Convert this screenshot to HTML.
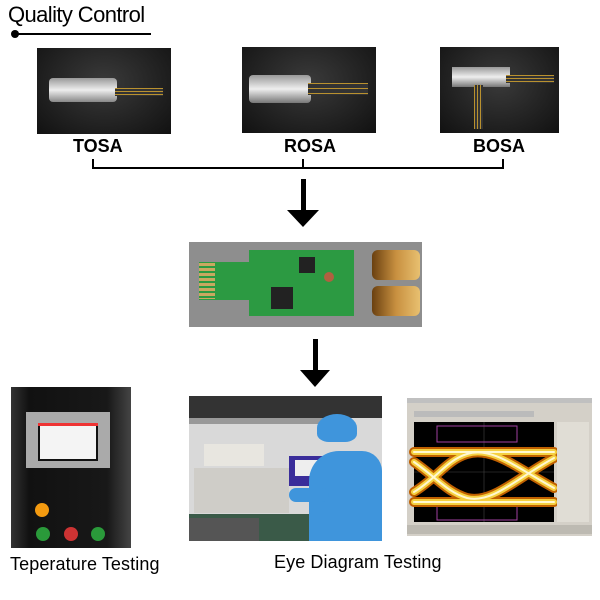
<!DOCTYPE html>
<html><head><style>
body{margin:0;width:600px;height:600px;background:#fff;position:relative;overflow:hidden;font-family:"Liberation Sans",Arial,sans-serif}
.a{position:absolute}
.t{font-weight:bold;font-size:18px;color:#000}
</style></head><body>
<div class="a" style="left:8px;top:2px;font-size:22px;letter-spacing:-0.6px">Quality Control</div>
<div class="a" style="left:12px;top:33px;width:139px;height:2px;background:#000"></div>
<div class="a" style="left:11px;top:30px;width:8px;height:8px;border-radius:50%;background:#000"></div>

<div class="a" style="left:37px;top:48px;width:134px;height:86px;background:radial-gradient(ellipse at 50% 40%,#3a3a3a,#111)">
 <div class="a" style="left:12px;top:30px;width:68px;height:24px;background:linear-gradient(#999,#eee,#888);border-radius:4px"></div>
 <div class="a" style="left:78px;top:40px;width:48px;height:8px;background:repeating-linear-gradient(#b9912f 0 1px,#333 1px 3px)"></div>
</div>
<div class="a" style="left:242px;top:47px;width:134px;height:86px;background:radial-gradient(ellipse at 50% 40%,#3a3a3a,#111)">
 <div class="a" style="left:7px;top:28px;width:62px;height:28px;background:linear-gradient(#999,#eee,#777);border-radius:4px"></div>
 <div class="a" style="left:66px;top:36px;width:60px;height:12px;background:repeating-linear-gradient(#b9912f 0 1px,#333 1px 5px)"></div>
</div>
<div class="a" style="left:440px;top:47px;width:119px;height:86px;background:radial-gradient(ellipse at 50% 40%,#3a3a3a,#111)">
 <div class="a" style="left:12px;top:20px;width:58px;height:20px;background:linear-gradient(#999,#eee,#777)"></div>
 <div class="a" style="left:66px;top:28px;width:48px;height:8px;background:repeating-linear-gradient(#b9912f 0 1px,#333 1px 3px)"></div>
 <div class="a" style="left:34px;top:38px;width:9px;height:44px;background:repeating-linear-gradient(90deg,#b9912f 0 1px,#333 1px 3px)"></div>
</div>
<div class="a t" style="left:73px;top:136px">TOSA</div>
<div class="a t" style="left:284px;top:136px">ROSA</div>
<div class="a t" style="left:473px;top:136px">BOSA</div>

<div class="a" style="left:92px;top:167px;width:412px;height:2px;background:#000"></div>
<div class="a" style="left:92px;top:159px;width:2px;height:10px;background:#000"></div>
<div class="a" style="left:302px;top:159px;width:2px;height:10px;background:#000"></div>
<div class="a" style="left:502px;top:159px;width:2px;height:10px;background:#000"></div>

<div class="a" style="left:301px;top:179px;width:5px;height:34px;background:#000"></div>
<div class="a" style="left:287px;top:210px;width:0;height:0;border-left:16px solid transparent;border-right:16px solid transparent;border-top:17px solid #000"></div>

<div class="a" style="left:189px;top:242px;width:233px;height:85px;background:#8e8e8e">
 <div class="a" style="left:60px;top:8px;width:105px;height:66px;background:#2c9a42"></div>
 <div class="a" style="left:10px;top:20px;width:52px;height:38px;background:#2c9a42"></div>
 <div class="a" style="left:10px;top:21px;width:16px;height:36px;background:repeating-linear-gradient(#c9a860 0 3px,#2c9a42 3px 5px)"></div>
 <div class="a" style="left:110px;top:15px;width:16px;height:16px;background:#222"></div>
 <div class="a" style="left:82px;top:45px;width:22px;height:22px;background:#222"></div>
 <div class="a" style="left:135px;top:30px;width:10px;height:10px;border-radius:50%;background:#b06040"></div>
 <div class="a" style="left:183px;top:8px;width:48px;height:30px;background:linear-gradient(90deg,#6a4010,#c89040,#e8c070);border-radius:6px"></div>
 <div class="a" style="left:183px;top:44px;width:48px;height:30px;background:linear-gradient(90deg,#6a4010,#c89040,#e8c070);border-radius:6px"></div>
</div>

<div class="a" style="left:313px;top:339px;width:5px;height:34px;background:#000"></div>
<div class="a" style="left:300px;top:370px;width:0;height:0;border-left:15px solid transparent;border-right:15px solid transparent;border-top:17px solid #000"></div>

<div class="a" style="left:11px;top:387px;width:120px;height:161px;background:linear-gradient(90deg,#333,#111 15%,#181818 80%,#444)">
 <div class="a" style="left:15px;top:25px;width:84px;height:56px;background:#aaa"></div>
 <div class="a" style="left:27px;top:36px;width:56px;height:34px;background:#f4f4f4;border:2px solid #111"></div>
 <div class="a" style="left:27px;top:36px;width:60px;height:3px;background:#e33"></div>
 <div class="a" style="left:24px;top:116px;width:14px;height:14px;border-radius:50%;background:#f39a10"></div>
 <div class="a" style="left:25px;top:140px;width:14px;height:14px;border-radius:50%;background:#2a9a3a"></div>
 <div class="a" style="left:53px;top:140px;width:14px;height:14px;border-radius:50%;background:#c33"></div>
 <div class="a" style="left:80px;top:140px;width:14px;height:14px;border-radius:50%;background:#2a9a3a"></div>
</div>

<div class="a" style="left:189px;top:396px;width:193px;height:145px;background:#d9d9d9;overflow:hidden">
 <div class="a" style="left:0;top:0;width:193px;height:22px;background:#333"></div>
 <div class="a" style="left:0;top:22px;width:150px;height:6px;background:#999"></div>
 <div class="a" style="left:15px;top:48px;width:60px;height:22px;background:#e8e6e0"></div>
 <div class="a" style="left:5px;top:72px;width:95px;height:45px;background:#cfcdc8"></div>
 <div class="a" style="left:0;top:118px;width:120px;height:27px;background:#3a5a48"></div>
 <div class="a" style="left:0;top:122px;width:70px;height:23px;background:#555"></div>
 <div class="a" style="left:100px;top:60px;width:44px;height:30px;background:#3a2d9a"></div>
 <div class="a" style="left:106px;top:64px;width:26px;height:16px;background:#eee"></div>
 <div class="a" style="left:120px;top:55px;width:73px;height:90px;background:#3f95dc;border-radius:30px 20px 0 0"></div>
 <div class="a" style="left:128px;top:18px;width:40px;height:28px;background:#3f95dc;border-radius:50% 50% 30% 30%"></div>
 <div class="a" style="left:100px;top:92px;width:40px;height:14px;background:#3f95dc;border-radius:7px"></div>
</div>

<div class="a" style="left:407px;top:398px;width:185px;height:138px;background:#d4d0c8">
 <svg class="a" style="left:0;top:0" width="185" height="138">
  <rect x="0" y="0" width="185" height="5" fill="#c0c0c0"/>
  <rect x="7" y="13" width="120" height="6" fill="#bbb"/>
  <rect x="7" y="24" width="140" height="100" fill="#000"/>
  <line x1="77" y1="24" x2="77" y2="124" stroke="#444" stroke-width="0.6"/>
  <line x1="7" y1="74" x2="147" y2="74" stroke="#444" stroke-width="0.6"/>
  <rect x="30" y="28" width="80" height="16" fill="none" stroke="#a040a0"/>
  <rect x="30" y="108" width="80" height="14" fill="none" stroke="#a040a0"/>
  <g fill="none" stroke-linecap="round">
   <path d="M7 54 H147 M7 104 H147 M7 64 C30 80 40 94 60 100 M7 94 C30 80 40 62 60 56 M60 56 C85 48 110 70 147 90 M60 100 C85 106 110 80 147 60" stroke="#c06000" stroke-width="10"/>
   <path d="M7 54 H147 M7 104 H147 M7 64 C30 80 40 94 60 100 M7 94 C30 80 40 62 60 56 M60 56 C85 48 110 70 147 90 M60 100 C85 106 110 80 147 60" stroke="#f5d040" stroke-width="6"/>
   <path d="M7 54 H147 M7 104 H147 M7 64 C30 80 40 94 60 100 M7 94 C30 80 40 62 60 56 M60 56 C85 48 110 70 147 90 M60 100 C85 106 110 80 147 60" stroke="#fff8d0" stroke-width="2"/>
  </g>
  <rect x="150" y="24" width="32" height="100" fill="#e0ddd5"/>
  <rect x="0" y="127" width="185" height="9" fill="#bdbab2"/>
 </svg>
</div>

<div class="a" style="left:10px;top:554px;font-size:18px;letter-spacing:0.1px">Teperature Testing</div>
<div class="a" style="left:274px;top:552px;font-size:18px;letter-spacing:0.1px">Eye Diagram Testing</div>
</body></html>
